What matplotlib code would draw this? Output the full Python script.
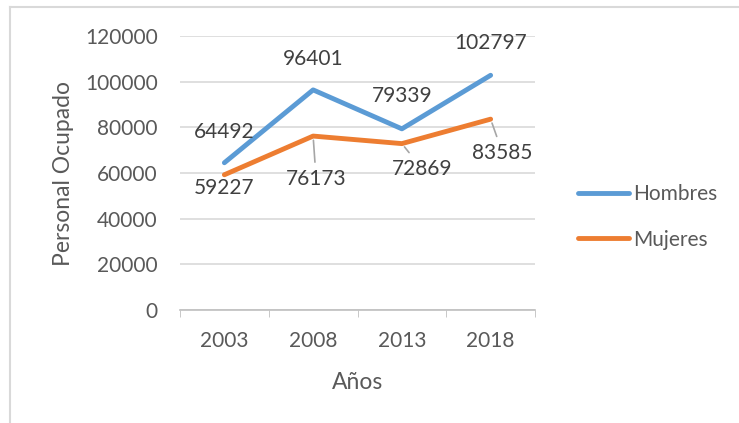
import matplotlib
matplotlib.use("Agg")
import matplotlib.pyplot as plt
from matplotlib.lines import Line2D

years = ["2003", "2008", "2013", "2018"]
hombres = [64492, 96401, 79339, 102797]
mujeres = [59227, 76173, 72869, 83585]

# label offsets in pixels (dx, dy) relative to each point
off_h = [(0, 31), (0, 31), (0, 33), (0, 32)]
off_m = [(0, -13), (3, -43), (20, -25), (12, -34)]
leader_m = [False, True, True, True]

plt.rcParams['font.family'] = ['Lato', 'DejaVu Sans']
grey = '#595959'

fig = plt.figure(figsize=(7.39, 4.23), dpi=100)
ax = fig.add_axes([180/739, 1-310/423, 355/739, 274/423])

x = range(len(years))
ax.plot(x, hombres, color='#5b9bd5', lw=3.5, label='Hombres', solid_capstyle='round')
ax.plot(x, mujeres, color='#ed7d31', lw=3.5, label='Mujeres', solid_capstyle='round')

ax.set_xlim(-0.5, 3.5)
ax.set_ylim(0, 120000)
ax.set_yticks(range(0, 120001, 20000))
ax.set_xticks(list(x))
ax.set_xticklabels(years)
ax.set_xticks([-0.5, 0.5, 1.5, 2.5, 3.5], minor=True)
ax.tick_params(axis='x', which='major', length=0, pad=15, labelsize=15, colors=grey)
ax.tick_params(axis='x', which='minor', length=5, color='#bfbfbf', direction='out')
ax.tick_params(axis='y', length=0, pad=16, labelsize=15, colors=grey)
ax.grid(axis='y', color='#d9d9d9', lw=1.2)
ax.set_axisbelow(True)
for s in ['top', 'right', 'left']:
    ax.spines[s].set_visible(False)
ax.spines['bottom'].set_color('#bfbfbf')
ax.spines['bottom'].set_linewidth(1.2)

ax.set_ylabel('Personal Ocupado', fontsize=16.5, color=grey, labelpad=8)
ax.set_xlabel('Años', fontsize=16.5, color=grey, labelpad=15)

for i, v in enumerate(hombres):
    ax.annotate(f"{v}", (i, v), xytext=off_h[i], textcoords='offset pixels',
                ha='center', va='center', fontsize=15, color='#404040')
for i, v in enumerate(mujeres):
    ap = dict(arrowstyle='-', color='#a6a6a6', lw=1.2, shrinkA=3, shrinkB=3) if leader_m[i] else None
    ax.annotate(f"{v}", (i, v), xytext=off_m[i], textcoords='offset pixels',
                ha='center', va='center', fontsize=15, color='#404040', arrowprops=ap)

leg = fig.legend(loc='center left', bbox_to_anchor=(559/739, 1-217/423), frameon=False,
                 fontsize=15, labelcolor=grey, handlelength=2.45, labelspacing=1.2,
                 handletextpad=0.2)
for h in leg.get_lines():
    h.set_linewidth(3.5)
    h.set_solid_capstyle('round')

# outer chart frame (only top/left visible)
fig.add_artist(Line2D([10/739, 10/739], [0, 1-7/423], color='#d9d9d9', lw=1.5, transform=fig.transFigure))
fig.add_artist(Line2D([10/739, 1], [1-7/423, 1-7/423], color='#d9d9d9', lw=1.5, transform=fig.transFigure))

fig.savefig('out.png', dpi=100, facecolor='white')
